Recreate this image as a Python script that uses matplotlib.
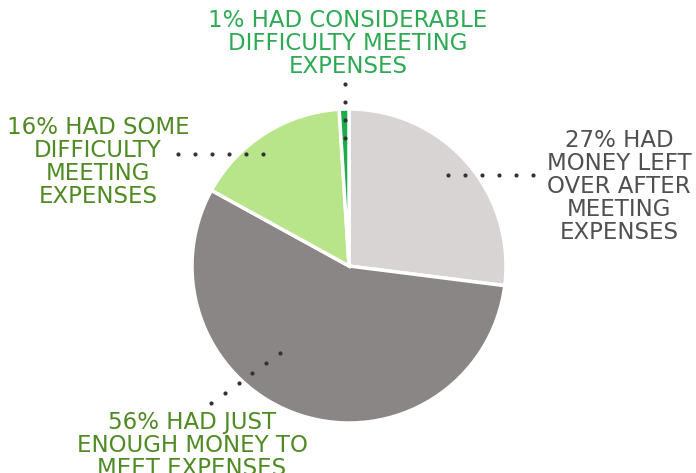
import numpy as np
import matplotlib.pyplot as plt

# data
categories = ['Money left over', 'Just enough', 'Some difficulty', 'Considerable difficulty']
shares = [27, 56, 16, 1]
labels = ['27% HAD\nMONEY LEFT\nOVER AFTER\nMEETING\nEXPENSES',
          '56% HAD JUST\nENOUGH MONEY TO\nMEET EXPENSES',
          '16% HAD SOME\nDIFFICULTY\nMEETING\nEXPENSES',
          '1% HAD CONSIDERABLE\nDIFFICULTY MEETING\nEXPENSES']
slice_colors = ['#d8d4d4', '#8a8685', '#b8e48a', '#1eab4c']
text_colors = ['#505050', '#4f8a22', '#4f8a22', '#2eaa55']

W, H = 696, 473
fig = plt.figure(figsize=(W / 100, H / 100), dpi=100)
ax = fig.add_axes([0, 0, 1, 1])

def py(y):
    # pixel row (from top) -> data y
    return H - y

cx, cy, r = 349, 266, 157
ax.pie(shares, colors=slice_colors, startangle=90, counterclock=False,
       center=(cx, py(cy)), radius=r,
       wedgeprops=dict(edgecolor='white', linewidth=2.5))

# label text: (x centre, y of first line top)
text_pos = [(619, 129), (192, 411), (98, 116), (348, 9)]
for lab, col, (tx, ty) in zip(labels, text_colors, text_pos):
    ax.text(tx, py(ty), lab, ha='center', va='top', fontsize=16.5,
            color=col, linespacing=1.0, fontfamily='DejaVu Sans')

# dotted leader lines: (start, end, number of dots)
leaders = [((448, 175), (533, 175), 6),
           ((211, 403), (280, 353), 6),
           ((178, 154), (263, 154), 6),
           ((345, 84), (345, 138), 4)]
for (x0, y0), (x1, y1), n in leaders:
    xs = np.linspace(x0, x1, n)
    ys = np.linspace(y0, y1, n)
    ax.scatter(xs, py(ys), s=9, color='#333333', zorder=5, linewidths=0)

ax.set_xlim(0, W)
ax.set_ylim(0, H)
ax.set_aspect('equal')
ax.axis('off')
fig.savefig('out.png', dpi=100)
